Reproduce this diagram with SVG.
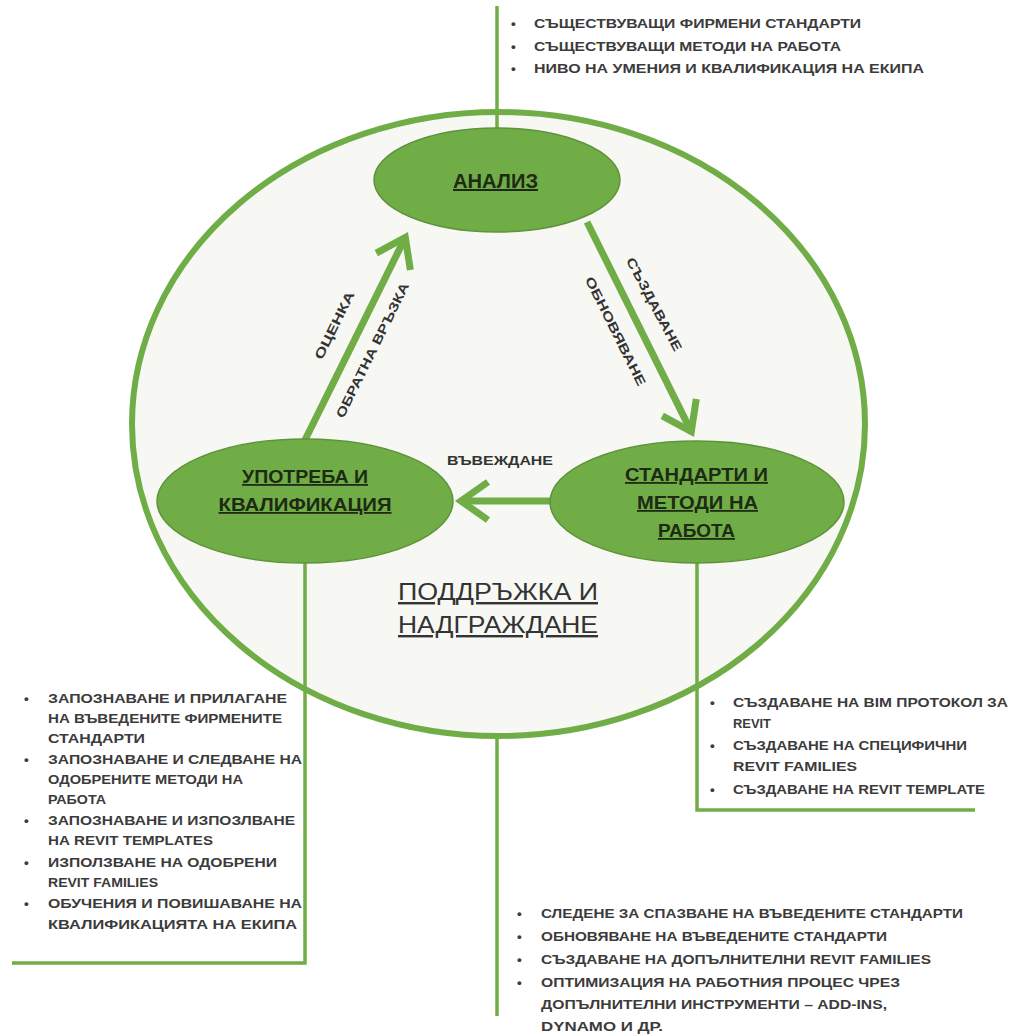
<svg xmlns="http://www.w3.org/2000/svg" width="1013" height="1035" viewBox="0 0 1013 1035">
<style>
.bg{fill:#ffffff}
.outer{fill:#f7f8f4;stroke:#70AD47;stroke-width:6}
.node{fill:#70AD47;stroke:#5e9339;stroke-width:1.5}
.ntext{font-family:"Liberation Sans",Arial,sans-serif;font-weight:bold;font-size:18px;fill:#1e2a14;text-anchor:middle;text-decoration:underline}
.ctext{font-family:"Liberation Sans",Arial,sans-serif;font-size:24px;fill:#333333;text-anchor:middle;text-decoration:underline}
.list{font-family:"Liberation Sans",Arial,sans-serif;font-weight:bold;font-size:13.5px;fill:#3b3b3b}
.lbl{font-family:"Liberation Sans",Arial,sans-serif;font-weight:bold;font-size:13px;fill:#333333;text-anchor:middle}
.lead{fill:none;stroke:#70AD47;stroke-width:3.5}
.arrow{fill:none;stroke:#70AD47;stroke-width:7;marker-end:url(#chev)}
</style>
<defs>
<marker id="chev" markerUnits="userSpaceOnUse" orient="auto" markerWidth="60" markerHeight="60" viewBox="-30 -30 60 60" refX="0" refY="0" overflow="visible">
<path d="M-27,-19 L0,0 L-27,19" fill="none" stroke="#70AD47" stroke-width="7"/>
</marker>
</defs>
<rect class="bg" x="0" y="0" width="1013" height="1035"/>

<g id="node-support">
<ellipse class="outer" cx="498.5" cy="424" rx="366.5" ry="312"/>
<text class="ctext" x="498" y="600" textLength="200" lengthAdjust="spacingAndGlyphs">ПОДДРЪЖКА И</text>
<text class="ctext" x="498" y="633" textLength="200" lengthAdjust="spacingAndGlyphs">НАДГРАЖДАНЕ</text>
</g>

<g id="connectors">
<line class="lead" x1="497" y1="6" x2="497" y2="130"/>
<polyline class="lead" points="305,560 305,963 12,963"/>
<polyline class="lead" points="697,560 697,810 975,810"/>
<line class="lead" x1="497" y1="736" x2="497" y2="1016"/>
<line class="arrow" x1="304" y1="442" x2="405.3" y2="237.4"/>
<line class="arrow" x1="587" y1="222" x2="691.3" y2="431.6"/>
<line class="arrow" x1="552" y1="501" x2="461" y2="501"/>
<text class="lbl" x="500" y="465" textLength="106" lengthAdjust="spacingAndGlyphs">ВЪВЕЖДАНЕ</text>
<text class="lbl" transform="translate(334,325) rotate(-63.7)" x="0" y="5" textLength="74" lengthAdjust="spacingAndGlyphs">ОЦЕНКА</text>
<text class="lbl" transform="translate(372,350) rotate(-63.7)" x="0" y="5" textLength="149" lengthAdjust="spacingAndGlyphs">ОБРАТНА ВРЪЗКА</text>
<text class="lbl" transform="translate(654.5,304) rotate(62)" x="0" y="5" textLength="104" lengthAdjust="spacingAndGlyphs">СЪЗДАВАНЕ</text>
<text class="lbl" transform="translate(616,331) rotate(63.5)" x="0" y="5" textLength="120" lengthAdjust="spacingAndGlyphs">ОБНОВЯВАНЕ</text>
</g>

<g id="node-analysis">
<ellipse class="node" cx="497" cy="180" rx="123" ry="52"/>
<text class="ntext" x="495.5" y="188" style="font-size:20px" textLength="85" lengthAdjust="spacingAndGlyphs">АНАЛИЗ</text>
</g>

<g id="node-usage">
<ellipse class="node" cx="305" cy="501" rx="148" ry="62"/>
<text class="ntext" x="305" y="483" textLength="126" lengthAdjust="spacingAndGlyphs">УПОТРЕБА И</text>
<text class="ntext" x="305" y="511" textLength="173" lengthAdjust="spacingAndGlyphs">КВАЛИФИКАЦИЯ</text>
</g>

<g id="node-standards">
<ellipse class="node" cx="697" cy="502" rx="147" ry="61"/>
<text class="ntext" x="696.5" y="481" textLength="143" lengthAdjust="spacingAndGlyphs">СТАНДАРТИ И</text>
<text class="ntext" x="697.5" y="509" textLength="121" lengthAdjust="spacingAndGlyphs">МЕТОДИ НА</text>
<text class="ntext" x="696.5" y="537" textLength="77" lengthAdjust="spacingAndGlyphs">РАБОТА</text>
</g>

<g id="list-top">
<text class="list" x="511" y="28">•</text>
<text class="list" x="534" y="28" textLength="327" lengthAdjust="spacingAndGlyphs">СЪЩЕСТВУВАЩИ ФИРМЕНИ СТАНДАРТИ</text>
<text class="list" x="511" y="51">•</text>
<text class="list" x="534" y="51" textLength="307" lengthAdjust="spacingAndGlyphs">СЪЩЕСТВУВАЩИ МЕТОДИ НА РАБОТА</text>
<text class="list" x="511" y="73">•</text>
<text class="list" x="534" y="73" textLength="390" lengthAdjust="spacingAndGlyphs">НИВО НА УМЕНИЯ И КВАЛИФИКАЦИЯ НА ЕКИПА</text>
</g>

<g id="list-left">
<text class="list" x="24" y="703">•</text>
<text class="list" x="48" y="703" textLength="239" lengthAdjust="spacingAndGlyphs">ЗАПОЗНАВАНЕ И ПРИЛАГАНЕ</text>
<text class="list" x="48" y="723" textLength="234" lengthAdjust="spacingAndGlyphs">НА ВЪВЕДЕНИТЕ ФИРМЕНИТЕ</text>
<text class="list" x="48" y="743" textLength="97" lengthAdjust="spacingAndGlyphs">СТАНДАРТИ</text>
<text class="list" x="24" y="764">•</text>
<text class="list" x="48" y="764" textLength="254" lengthAdjust="spacingAndGlyphs">ЗАПОЗНАВАНЕ И СЛЕДВАНЕ НА</text>
<text class="list" x="48" y="784" textLength="195" lengthAdjust="spacingAndGlyphs">ОДОБРЕНИТЕ МЕТОДИ НА</text>
<text class="list" x="48" y="804" textLength="58" lengthAdjust="spacingAndGlyphs">РАБОТА</text>
<text class="list" x="24" y="825">•</text>
<text class="list" x="48" y="825" textLength="247" lengthAdjust="spacingAndGlyphs">ЗАПОЗНАВАНЕ И ИЗПОЗЛВАНЕ</text>
<text class="list" x="48" y="845" textLength="165" lengthAdjust="spacingAndGlyphs">НА REVIT TEMPLATES</text>
<text class="list" x="24" y="867">•</text>
<text class="list" x="48" y="867" textLength="229" lengthAdjust="spacingAndGlyphs">ИЗПОЛЗВАНЕ НА ОДОБРЕНИ</text>
<text class="list" x="48" y="887" textLength="110" lengthAdjust="spacingAndGlyphs">REVIT FAMILIES</text>
<text class="list" x="24" y="908">•</text>
<text class="list" x="48" y="908" textLength="254" lengthAdjust="spacingAndGlyphs">ОБУЧЕНИЯ И ПОВИШАВАНЕ НА</text>
<text class="list" x="48" y="929" textLength="249" lengthAdjust="spacingAndGlyphs">КВАЛИФИКАЦИЯТА НА ЕКИПА</text>
</g>

<g id="list-right">
<text class="list" x="710" y="707">•</text>
<text class="list" x="733" y="707" textLength="275" lengthAdjust="spacingAndGlyphs">СЪЗДАВАНЕ НА BIM ПРОТОКОЛ ЗА</text>
<text class="list" x="733" y="728" textLength="38" lengthAdjust="spacingAndGlyphs">REVIT</text>
<text class="list" x="710" y="750">•</text>
<text class="list" x="733" y="750" textLength="234" lengthAdjust="spacingAndGlyphs">СЪЗДАВАНЕ НА СПЕЦИФИЧНИ</text>
<text class="list" x="733" y="771" textLength="124" lengthAdjust="spacingAndGlyphs">REVIT FAMILIES</text>
<text class="list" x="710" y="794">•</text>
<text class="list" x="733" y="794" textLength="252" lengthAdjust="spacingAndGlyphs">СЪЗДАВАНЕ НА REVIT TEMPLATE</text>
</g>

<g id="list-bottom">
<text class="list" x="517" y="918">•</text>
<text class="list" x="541" y="918" textLength="422" lengthAdjust="spacingAndGlyphs">СЛЕДЕНЕ ЗА СПАЗВАНЕ НА ВЪВЕДЕНИТЕ СТАНДАРТИ</text>
<text class="list" x="517" y="941">•</text>
<text class="list" x="541" y="941" textLength="346" lengthAdjust="spacingAndGlyphs">ОБНОВЯВАНЕ НА ВЪВЕДЕНИТЕ СТАНДАРТИ</text>
<text class="list" x="517" y="964">•</text>
<text class="list" x="541" y="964" textLength="390" lengthAdjust="spacingAndGlyphs">СЪЗДАВАНЕ НА ДОПЪЛНИТЕЛНИ REVIT FAMILIES</text>
<text class="list" x="517" y="987">•</text>
<text class="list" x="541" y="987" textLength="359" lengthAdjust="spacingAndGlyphs">ОПТИМИЗАЦИЯ НА РАБОТНИЯ ПРОЦЕС ЧРЕЗ</text>
<text class="list" x="541" y="1009" textLength="346" lengthAdjust="spacingAndGlyphs">ДОПЪЛНИТЕЛНИ ИНСТРУМЕНТИ – ADD-INS,</text>
<text class="list" x="541" y="1031" textLength="122" lengthAdjust="spacingAndGlyphs">DYNAMO И ДР.</text>
</g>
</svg>
